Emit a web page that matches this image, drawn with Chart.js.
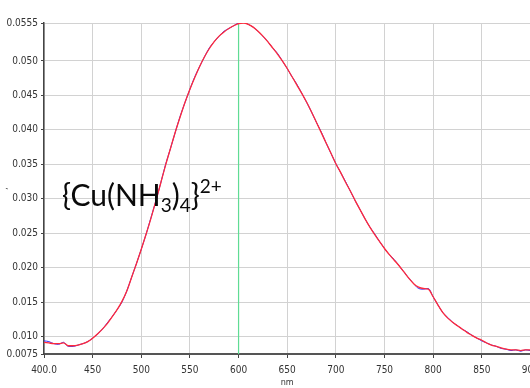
<!DOCTYPE html>
<html>
<head>
<meta charset="utf-8">
<script src="https://cdn.jsdelivr.net/npm/chart.js@4.4.1/dist/chart.umd.min.js"></script>
<style>
  html, body { margin: 0; padding: 0; background: #fff; overflow: hidden; width: 530px; height: 388px; }
  #wrap { position: relative; width: 545px; height: 388px; }
  #formula {
    position: absolute; left: 62px; top: 179px;
    font-family: Lato, "Open Sans", sans-serif; font-size: 30px; color: #0a0a0a;
    white-space: nowrap; line-height: 1;
  }
  #formula sub { font-size: 19px; vertical-align: -6px; line-height: 0; }
  #formula sup { font-size: 19px; vertical-align: 13px; line-height: 0; }
</style>
</head>
<body>
<div id="wrap">
  <canvas id="c" width="545" height="388"></canvas>
  <div id="formula">{Cu(NH<sub>3</sub>)<sub>4</sub>}<sup>2+</sup></div>
</div>
<script>
// Wavelength grid (nm)
const wavelengths = [
  400,405,410,415,420,425,430,435,440,445,450,455,460,465,470,475,480,485,490,495,
  500,505,510,515,520,525,530,535,540,545,550,555,560,565,570,575,580,585,590,595,
  600,605,610,615,620,625,630,635,640,645,650,655,660,665,670,675,680,685,690,695,
  700,705,710,715,720,725,730,735,740,745,750,755,760,765,770,775,780,785,790,795,
  800,805,810,815,820,825,830,835,840,845,850,855,860,865,870,875,880,885,890,895,
  900
];

// Smoothed absorbance trace
const absorbanceSmooth = [
  0.0092,0.0091,0.0090,0.0090,0.0091,0.0087,0.0087,0.0088,0.0090,0.0093,
  0.0098,0.0104,0.0111,0.0119,0.0129,0.0139,0.0151,0.0166,0.0186,0.0206,
  0.0227,0.0249,0.0272,0.0297,0.0323,0.0349,0.0373,0.0397,0.0419,0.0440,
  0.0459,0.0476,0.0492,0.0506,0.0518,0.0528,0.0536,0.0542,0.0547,0.0551,
  0.0554,0.0555,0.0553,0.0549,0.0543,0.0536,0.0528,0.0519,0.0510,0.0500,
  0.0489,0.0477,0.0465,0.0453,0.0440,0.0426,0.0411,0.0396,0.0381,0.0366,
  0.0351,0.0338,0.0324,0.0311,0.0297,0.0284,0.0271,0.0259,0.0248,0.0238,
  0.0228,0.0219,0.0211,0.0203,0.0194,0.0185,0.0177,0.0172,0.0170,0.0169,
  0.0158,0.0146,0.0135,0.0127,0.0121,0.0116,0.0111,0.0106,0.0102,0.0098,
  0.0095,0.0091,0.0088,0.0086,0.0084,0.0082,0.0081,0.0081,0.0080,0.0081,
  0.0081
];

// Raw measured absorbance
const absorbanceRaw = [
  0.0094,0.0093,0.0090,0.0089,0.0092,0.0086,0.0086,0.0088,0.0090,0.0093,
  0.0098,0.0104,0.0111,0.0120,0.0129,0.0139,0.0150,0.0166,0.0186,0.0206,
  0.0227,0.0249,0.0273,0.0297,0.0323,0.0350,0.0373,0.0397,0.0420,0.0440,
  0.0459,0.0477,0.0492,0.0506,0.0519,0.0528,0.0536,0.0543,0.0547,0.0551,
  0.0555,0.0556,0.0553,0.0549,0.0543,0.0536,0.0528,0.0519,0.0511,0.0500,
  0.0489,0.0477,0.0466,0.0453,0.0440,0.0426,0.0411,0.0397,0.0381,0.0366,
  0.0351,0.0338,0.0325,0.0311,0.0297,0.0284,0.0271,0.0259,0.0249,0.0238,
  0.0228,0.0219,0.0212,0.0203,0.0194,0.0185,0.0177,0.0170,0.0169,0.0170,
  0.0158,0.0146,0.0135,0.0128,0.0121,0.0116,0.0111,0.0107,0.0102,0.0098,
  0.0094,0.0091,0.0088,0.0086,0.0083,0.0082,0.0080,0.0081,0.0079,0.0081,
  0.0080
];

// Marker at the absorbance maximum
const peakWavelength = [600, 600];
const peakSpan = [0.0075, 0.0555];

// Y axis tick values and their labels
const yTickValues = [0.0075, 0.010, 0.015, 0.020, 0.025, 0.030, 0.035, 0.040, 0.045, 0.050, 0.0555];
const yTickLabels = ['0.0075','0.010','0.015','0.020','0.025','0.030','0.035','0.040','0.045','0.050','0.0555'];

const toPoints = (xs, ys) => xs.map((x, i) => ({ x: x, y: ys[i] }));

const tickFont = { family: '"Liberation Sans Narrow", "Arial Narrow", "DejaVu Sans Condensed", sans-serif', size: 10 };

new Chart(document.getElementById('c'), {
  type: 'line',
  data: {
    datasets: [
      {
        label: 'peak',
        data: toPoints(peakWavelength, peakSpan),
        borderColor: '#5fdc94',
        borderWidth: 1.2,
        pointRadius: 0,
        order: 3
      },
      {
        label: 'raw',
        data: toPoints(wavelengths, absorbanceRaw),
        borderColor: '#2f2fff',
        borderWidth: 1.0,
        pointRadius: 0,
        cubicInterpolationMode: 'monotone',
        order: 2
      },
      {
        label: 'smooth',
        data: toPoints(wavelengths, absorbanceSmooth),
        borderColor: '#ff2a3a',
        borderWidth: 1.3,
        pointRadius: 0,
        cubicInterpolationMode: 'monotone',
        order: 1
      }
    ]
  },
  options: {
    responsive: false,
    animation: false,
    devicePixelRatio: 1,
    layout: { padding: { top: 23, right: 11, left: 0, bottom: 0 } },
    plugins: { legend: { display: false }, tooltip: { enabled: false } },
    scales: {
      x: {
        type: 'linear',
        min: 400,
        max: 900,
        ticks: {
          stepSize: 50,
          color: '#333',
          font: tickFont,
          padding: 6,
          maxRotation: 0,
          callback: (v) => (v === 400 ? '400.0' : String(v))
        },
        grid: { color: '#d2d2d2', lineWidth: 1, tickLength: 4, tickColor: '#444' },
        border: { color: '#555', width: 2 },
        title: { display: true, text: 'nm', color: '#333', font: { family: tickFont.family, size: 9 }, padding: { top: 3, bottom: 0 } },
        afterFit: (s) => { s.height = 34; }
      },
      y: {
        type: 'linear',
        min: 0.0075,
        max: 0.0555,
        afterBuildTicks: (s) => { s.ticks = yTickValues.map(v => ({ value: v })); },
        ticks: {
          color: '#333',
          font: tickFont,
          padding: 3,
          callback: (v, i) => yTickLabels[i]
        },
        grid: { color: '#d2d2d2', lineWidth: 1, tickLength: 3, tickColor: '#444' },
        border: { color: '#444', width: 1.5 },
        title: { display: true, text: ',', color: '#333', font: { family: tickFont.family, size: 8 }, padding: { top: 0, bottom: 0 } },
        afterFit: (s) => { s.width = 44; }
      }
    }
  }
});
</script>
</body>
</html>
